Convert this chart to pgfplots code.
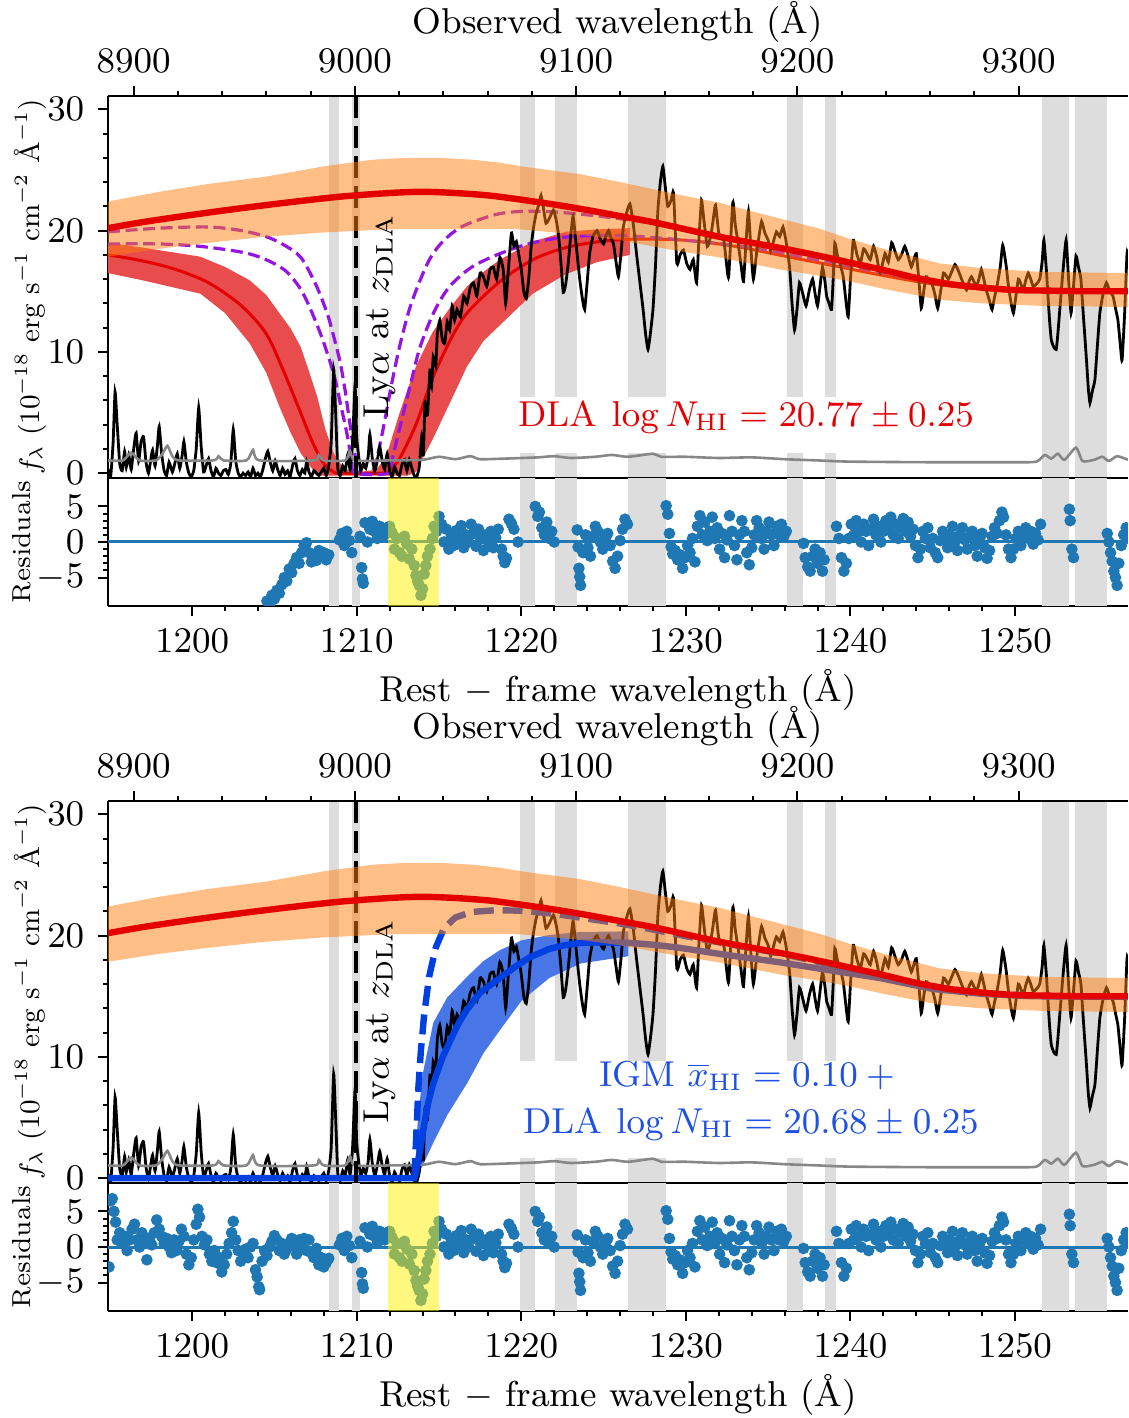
\documentclass[border=0pt]{standalone}
\usepackage{graphicx}
\usepackage{pgfplots}
\pgfplotsset{compat=1.18}
\usepackage{pgfplotstable}

\definecolor{tabblue}{RGB}{31,119,180}
\definecolor{taborange}{RGB}{255,127,14}
\definecolor{cred}{RGB}{228,0,0}
\definecolor{bandred}{RGB}{232,76,76}
\definecolor{cpurple}{RGB}{150,20,225}
\definecolor{cblue}{RGB}{0,64,224}
\definecolor{bandblue}{RGB}{72,118,230}
\definecolor{txtblue}{RGB}{30,80,230}
\definecolor{maskgray}{RGB}{221,221,221}
\definecolor{noisegray}{RGB}{135,135,135}

\newcommand{\ninept}{\fontsize{9}{10.8}\selectfont}

\pgfplotsset{
  /pgf/number format/1000 sep={},
  every tick label/.append style={font=\ninept},
  every axis label/.append style={font=\ninept},
  base/.style={scale only axis, width=255pt, anchor=south west, tick align=outside,
    axis line style={line width=0.6pt}, major tick length=2.4pt, minor tick length=1.3pt,
    every tick/.style={black, line width=0.5pt}},
  restx/.style={base, xmin=1194.89, xmax=1256.86, axis y line*=left, clip marker paths=true},
  mainax/.style={restx, height=95.5pt, ymin=-0.4, ymax=31.1, ytick={0,10,20,30}, minor y tick num=4,
    xtick=\empty},
  resax/.style={restx, height=32pt, ymin=-9, ymax=9, ytick={-5,0,5}, minor y tick num=4,
    yticklabel style={inner ysep=0.5pt},
    xtick={1200,1210,1220,1230,1240,1250}, minor x tick num=4, xtick pos=left,
    xlabel={Rest $-$ frame wavelength (\AA)},
    xlabel style={at={(axis description cs:0.5,-0.656)}, anchor=center}},
  obsax/.style={base, height=95.5pt, xmin=8888.43, xmax=9349.41, ymin=0, ymax=1,
    axis x line*=top, axis y line=none, xtick={8900,9000,9100,9200,9300}, minor x tick num=4,
    xlabel={Observed wavelength (\AA)},
    xlabel style={at={(axis description cs:0.5,1.194)}, anchor=center}},
}

\newcommand{\gband}[4]{\addplot[fill=maskgray, draw=none] coordinates {(#1,#3) (#1,#4) (#2,#4) (#2,#3)} -- cycle;}
\newcommand{\allbands}[2]{%
  \gband{1208.34}{1208.95}{#1}{#2}\gband{1209.73}{1210.2}{#1}{#2}
  \gband{1219.92}{1220.83}{#1}{#2}\gband{1222.05}{1223.38}{#1}{#2}
  \gband{1226.5}{1228.77}{#1}{#2}\gband{1236.16}{1237.1}{#1}{#2}
  \gband{1238.45}{1239.12}{#1}{#2}\gband{1251.66}{1253.26}{#1}{#2}
  \gband{1253.67}{1255.57}{#1}{#2}}

\pgfplotstableread{
x y
1194.90 0.3
1195.05 -0.3
1195.2 2.5
1195.32 6.7
1195.45 4.0
1195.6 0.8
1195.75 0.2
1195.9 1.8
1196.0 0.5
1196.15 1.5
1196.3 0.3
1196.45 2.0
1196.6 3.3
1196.75 1.0
1196.9 2.6
1197.05 3.0
1197.2 0.9
1197.35 0.0
1197.5 1.2
1197.6 1.9
1197.75 0.6
1197.9 2.4
1198.0 3.85
1198.15 1.6
1198.3 0.2
1198.45 -0.2
1198.6 0.9
1198.8 0.1
1198.95 0.8
1199.1 1.6
1199.25 0.4
1199.4 1.5
1199.5 2.6
1199.65 0.9
1199.8 0.0
1199.95 -0.3
1200.1 0.2
1200.25 2.0
1200.4 5.4
1200.55 2.2
1200.7 0.1
1200.85 0.6
1201.0 1.2
1201.15 0.2
1201.3 -0.3
1201.45 0.4
1201.6 0.0
1201.75 -0.2
1201.9 0.2
1202.05 0.3
1202.2 -0.1
1202.35 0.8
1202.5 3.6
1202.65 1.0
1202.8 0.0
1202.95 -0.3
1203.1 0.0
1203.25 -0.2
1203.4 0.1
1203.55 -0.3
1203.7 0.4
1203.85 -0.2
1204.0 0.0
1204.15 -0.3
1204.3 0.3
1204.45 1.2
1204.6 1.8
1204.75 0.9
1204.9 0.2
1205.05 1.0
1205.2 0.3
1205.35 -0.2
1205.5 0.4
1205.65 -0.1
1205.8 0.2
1205.95 -0.3
1206.1 0.6
1206.25 1.2
1206.4 0.2
1206.55 -0.2
1206.7 0.3
1206.85 0.0
1206.96 0.95
1207.1 0.1
1207.25 -0.3
1207.4 0.2
1207.55 0.0
1207.7 -0.2
1207.85 0.1
1208.0 0.4
1208.15 -0.2
1208.3 0.6
1208.45 2.5
1208.6 8.6
1208.72 5.0
1208.85 0.4
1209.0 -0.2
1209.15 0.6
1209.3 0.2
1209.45 1.5
1209.6 0.3
1209.75 2.5
1209.9 7.3
1210.0 3.0
1210.1 1.6
1210.25 0.2
1210.4 0.8
1210.55 0.4
1210.7 1.4
1210.8 3.2
1210.95 1.2
1211.1 0.2
1211.25 1.0
1211.4 2.2
1211.55 1.0
1211.7 0.3
1211.85 1.6
1212.0 0.2
1212.15 -0.3
1212.3 0.5
1212.45 0.0
1212.6 -0.2
1212.75 0.7
1212.9 1.1
1213.05 0.2
1213.2 1.1
1213.35 0.4
1213.5 -0.2
1213.65 -0.3
1213.8 0.5
1213.95 3.0
1214.05 1.5
1214.15 5.8
1214.3 4.8
1214.45 8.5
1214.55 7.2
1214.65 9.6
1214.8 8.8
1214.9 11.5
1215.05 12.6
1215.2 11.0
1215.35 10.7
1215.5 12.5
1215.65 11.8
1215.8 13.8
1215.95 12.6
1216.1 13.5
1216.3 12.9
1216.5 14.6
1216.7 14.0
1216.9 15.3
1217.1 15.7
1217.3 14.6
1217.5 16.5
1217.7 16.2
1217.9 15.4
1218.1 16.8
1218.3 17.0
1218.5 16.0
1218.7 17.8
1218.9 16.8
1219.05 14.0
1219.2 16.5
1219.4 19.8
1219.55 18.7
1219.7 19.1
1219.85 18.0
1220.0 16.8
1220.15 15.0
1220.3 14.4
1220.45 16.0
1220.6 18.7
1220.75 20.3
1220.9 21.4
1221.05 22.1
1221.2 22.9
1221.35 21.8
1221.5 20.6
1221.7 21.0
1221.95 21.7
1222.1 21.0
1222.25 19.8
1222.4 17.5
1222.55 14.9
1222.7 15.6
1222.85 17.3
1223.0 19.5
1223.15 21.2
1223.35 18.6
1223.55 16.0
1223.7 14.5
1223.85 13.5
1224.0 15.7
1224.15 18.1
1224.35 19.5
1224.6 20.0
1224.8 19.3
1225.0 18.9
1225.15 19.6
1225.3 20.0
1225.45 19.4
1225.6 18.9
1225.75 17.5
1225.9 16.2
1226.05 18.0
1226.2 20.3
1226.4 21.5
1226.6 22.2
1226.8 20.6
1227.0 18.1
1227.2 15.8
1227.4 13.5
1227.55 11.5
1227.7 10.2
1227.85 11.6
1228.0 13.5
1228.15 17.0
1228.3 21.7
1228.45 24.0
1228.6 25.3
1228.75 23.6
1228.9 22.0
1229.1 22.5
1229.25 23.1
1229.45 17.3
1229.65 18.0
1229.85 18.4
1230.05 17.3
1230.25 16.8
1230.45 17.6
1230.65 15.7
1230.8 19.5
1230.95 22.5
1231.1 20.8
1231.3 18.7
1231.5 19.5
1231.65 20.8
1231.8 22.1
1232.0 19.8
1232.3 19.2
1232.45 17.5
1232.6 16.2
1232.85 22.3
1233.0 20.5
1233.2 18.7
1233.35 17.2
1233.5 15.8
1233.65 19.0
1233.8 21.6
1233.95 18.5
1234.1 16.0
1234.3 18.2
1234.45 19.6
1234.6 20.75
1234.8 19.8
1235.0 19.2
1235.15 18.3
1235.3 19.0
1235.5 19.9
1235.7 19.5
1235.9 20.3
1236.1 19.0
1236.3 17.0
1236.45 14.0
1236.6 11.8
1236.75 13.5
1236.9 15.7
1237.1 14.8
1237.3 13.8
1237.5 15.1
1237.7 16.0
1237.85 14.8
1238.0 13.8
1238.15 15.4
1238.3 17.0
1238.45 15.8
1238.55 14.6
1238.7 14.0
1238.85 13.5
1238.95 16.0
1239.05 18.96
1239.2 18.0
1239.4 17.1
1239.56 16.2
1239.7 14.5
1239.86 12.9
1240.0 16.0
1240.17 19.2
1240.4 18.0
1240.6 17.3
1240.8 18.5
1241.0 18.1
1241.2 17.6
1241.4 18.7
1241.6 17.8
1241.8 16.5
1242.1 18.1
1242.3 17.4
1242.5 19.0
1242.7 18.3
1242.9 17.6
1243.1 18.0
1243.3 18.7
1243.5 17.9
1243.7 17.0
1243.85 17.6
1244.0 18.1
1244.15 16.0
1244.3 13.6
1244.45 15.0
1244.6 16.2
1244.8 15.9
1245.0 15.4
1245.15 14.6
1245.3 13.6
1245.5 15.2
1245.65 16.5
1245.8 16.3
1245.95 16.0
1246.15 16.6
1246.35 17.2
1246.55 16.7
1246.75 16.0
1246.9 15.5
1247.05 15.1
1247.2 15.8
1247.35 16.2
1247.5 15.8
1247.65 15.4
1247.8 16.0
1247.95 16.8
1248.1 16.0
1248.25 15.1
1248.45 14.2
1248.6 13.5
1248.75 14.5
1248.9 15.4
1249.1 17.0
1249.25 18.8
1249.45 17.2
1249.6 15.4
1249.75 14.1
1249.9 13.2
1250.05 14.6
1250.2 16.0
1250.35 15.6
1250.5 15.1
1250.65 15.9
1250.8 16.5
1250.95 16.0
1251.1 15.4
1251.3 15.6
1251.5 16.0
1251.65 17.5
1251.75 19.2
1251.9 16.8
1252.0 14.6
1252.1 12.5
1252.2 11.0
1252.35 10.4
1252.5 10.2
1252.6 11.5
1252.7 13.2
1252.9 16.5
1253.1 19.2
1253.25 16.0
1253.4 13.2
1253.55 15.4
1253.7 17.9
1253.85 17.0
1254.0 16.0
1254.15 13.0
1254.35 9.1
1254.45 7.0
1254.55 5.8
1254.7 6.8
1254.85 7.7
1255.0 10.5
1255.15 13.2
1255.35 14.8
1255.55 15.7
1255.75 15.0
1255.95 14.6
1256.1 13.6
1256.25 12.6
1256.4 10.5
1256.5 9.3
1256.65 13.0
1256.8 18.1
1256.86 18.0
}\spec

\pgfplotstableread{
x y
1194.89 1.05
1195.8 1.05
1196.3 1.7
1196.8 1.05
1197.8 1.05
1198.2 1.6
1198.5 2.25
1198.8 1.4
1199.2 1.05
1201.3 1.05
1201.6 1.4
1201.9 1.05
1203.3 1.05
1203.7 1.9
1204.1 1.05
1207.4 1.05
1207.7 1.5
1208.0 1.05
1209.3 1.05
1209.6 1.8
1209.9 1.05
1212 1.05
1214 1.1
1215 1.35
1216 1.15
1216.9 1.4
1217.5 1.15
1219 1.2
1221 1.3
1222 1.4
1223 1.25
1224.5 1.35
1225.5 1.5
1226.5 1.35
1228 1.6
1228.5 1.35
1230 1.35
1232 1.25
1234 1.3
1236 1.15
1238 1.05
1240 0.95
1245 0.9
1250 0.9
1251.3 0.95
1251.8 1.5
1252.2 1.2
1252.6 1.6
1253.0 1.1
1253.7 2.1
1254.1 1.0
1254.8 1.1
1255.3 1.35
1255.7 1.0
1256.2 1.4
1256.86 1.1
}\noise

\pgfplotstableread{
x y
1194.89 20.2
1197 20.7
1200 21.3
1203 21.85
1206 22.35
1209 22.8
1212 23.1
1214 23.2
1216 23.1
1218 22.9
1220 22.55
1222 22.15
1224 21.7
1226 21.2
1228 20.7
1230 20.1
1232 19.5
1234 19.0
1236 18.5
1238 17.95
1240 17.35
1242 16.75
1244 16.1
1246 15.6
1248 15.3
1250 15.1
1252 15.05
1254 15.0
1256.86 15.0
}\cont

\pgfplotstableread{
x y
1194.89 18.0
1197 17.5
1199 16.8
1201 15.7
1203 13.8
1204.5 11.5
1205.5 8.6
1206.5 5.3
1207.3 2.6
1208 0.8
1208.6 0.1
1209 0.0
1211.5 0.0
1212 0.25
1212.6 1.2
1213.6 4.0
1214.6 7.8
1215.7 11.0
1216.7 13.2
1218.7 15.8
1220.7 17.6
1222.7 18.6
1224.8 19.1
1227 19.3
1230 19.2
1233 18.7
1236 17.9
1239 17.1
1242 16.3
1245 15.6
1248 15.2
1251 15.0
1256.86 14.95
}\dlamed

\pgfplotstableread{
x y
1194.89 19.9
1198 20.2
1201 20.3
1203 20.0
1204.5 19.5
1205.6 18.8
1206.6 17.8
1207.5 15.6
1208.2 13.2
1208.6 11.3
1209.0 9.1
1209.3 6.8
1209.5 4.9
1209.8 2.2
1210.05 0.6
1210.3 0.0
1210.9 0.0
1211.2 1.1
1211.6 3.6
1212.1 7.2
1212.6 10.4
1213.2 13.5
1213.85 15.9
1214.5 17.8
1215.3 19.2
1216.5 20.4
1218.7 21.4
1221 21.6
1224 21.3
1228 20.6
1232 19.6
1236 18.4
1240 17.3
1244 16.1
1248 15.3
1252 15.05
1256.86 15.0
}\pone

\pgfplotstableread{
x y
1194.89 18.9
1198 18.9
1200.5 18.7
1203.1 18.2
1204.5 17.6
1205.75 16.6
1206.75 14.8
1207.8 11.5
1208.6 8.2
1209.0 5.8
1209.4 3.3
1209.7 1.0
1209.9 0.0
1211.9 0.0
1212.2 1.4
1212.7 4.2
1213.3 7.5
1213.85 10.4
1214.7 13.3
1215.65 15.4
1217 17.0
1218.7 18.1
1220.7 19.0
1223 19.5
1226 19.6
1230 19.2
1234 18.6
1238 17.6
1242 16.5
1246 15.5
1250 15.1
1256.86 15.0
}\ptwo

\pgfplotstableread{
x y
1194.89 0
1213.5 0
1213.6 0.4
1213.7 1.2
1213.85 2.3
1214.05 4.0
1214.25 5.6
1214.45 6.8
1214.65 7.8
1215.2 9.9
1215.7 11.4
1216.2 12.8
1216.7 13.9
1217.5 15.3
1218.7 16.5
1219.6 17.4
1220.5 18.2
1221.7 18.9
1222.6 19.2
1223.6 19.4
1225 19.45
1226.6 19.4
1228 19.25
1229.6 19.0
1232 18.5
1235.7 17.8
1238 17.3
1241.8 16.5
1245 15.6
1248 15.2
1251 15.0
1256.86 14.95
}\bluesolid

\pgfplotstableread{
x y
1213.5 0
1213.55 1.5
1213.65 4.5
1213.75 7.5
1213.9 10.5
1214.1 13.5
1214.4 16.6
1214.8 19.0
1215.3 20.6
1216 21.5
1217 21.95
1218.5 22.1
1220 22.05
1222 21.8
1224 21.4
1226 21.0
1228 20.5
1230 19.95
1233 19.2
1236 18.45
1240 17.25
1244 16.0
1248 15.25
1252 15.0
1256.86 14.95
}\bluedash

\pgfplotstableread{
x y
1204.4 -9.2
1204.55 -8.3
1204.7 -8.8
1204.85 -7.5
1205.0 -8.0
1205.15 -6.8
1205.3 -7.2
1205.45 -6.0
1205.6 -5.0
1205.75 -5.5
1205.9 -3.8
1206.05 -4.3
1206.2 -3.0
1206.35 -2.2
1206.5 -3.0
1206.65 -1.5
1206.8 -0.5
1206.95 -0.1
1207.1 -1.5
1207.25 -2.8
1207.4 -1.8
1207.55 -2.6
1207.7 -1.2
1207.85 -2.0
1208.0 -1.5
1208.15 -2.5
1208.3 -1.8
}\restopleft

\pgfplotstableread{
x y
1194.95 -2.8
1195.05 6.5
1195.15 6.8
1195.25 5.0
1195.35 3.5
1195.45 1.0
1195.6 2.0
1195.75 0.5
1195.9 1.5
1196.05 -0.5
1196.2 1.0
1196.35 2.5
1196.5 3.2
1196.65 1.0
1196.8 0.0
1196.95 2.0
1197.1 0.5
1197.25 -1.8
1197.4 1.2
1197.55 0.3
1197.7 2.0
1197.85 3.8
1198.0 2.5
1198.15 1.5
1198.3 0.5
1198.45 1.2
1198.6 0.0
1198.75 -0.8
1198.9 1.0
1199.05 -0.5
1199.2 0.8
1199.35 2.5
1199.5 1.5
1199.65 -1.0
1199.8 -2.5
1199.95 -1.5
1200.1 1.0
1200.25 3.2
1200.35 5.3
1200.45 4.2
1200.6 1.5
1200.75 0.3
1200.9 1.0
1201.05 -1.0
1201.2 -2.0
1201.35 -0.5
1201.5 -2.2
1201.65 -1.5
1201.8 -3.5
1201.95 -2.5
1202.1 -1.0
1202.25 0.5
1202.4 2.0
1202.5 3.6
1202.65 1.0
1202.8 -0.5
1202.95 -2.0
1203.1 -1.0
1203.25 -0.3
1203.4 -1.5
1203.55 0.0
1203.7 0.5
1203.85 -3.2
1203.95 -4.2
1204.05 -5.6
1204.1 -6.0
1204.25 -2.0
1204.4 -0.5
1204.55 -1.2
1204.7 0.0
1204.85 0.8
1205.0 1.6
1205.15 1.0
1205.3 -0.5
1205.45 0.5
1205.6 -1.0
1205.75 -0.3
1205.9 0.5
1206.05 1.2
1206.2 0.2
1206.35 -1.0
1206.5 1.0
1206.65 0.0
1206.8 1.2
1206.95 -0.5
1207.1 1.0
1207.25 -0.8
1207.4 -1.5
1207.55 -0.2
1207.7 -2.5
1207.85 -1.5
1208.0 -2.8
1208.15 -2.2
1208.3 -1.6
}\resbotleft

\pgfplotstableread{
x y
1208.95 0.3
1209.1 1.2
1209.25 -0.5
1209.4 1.5
1209.55 0.2
1209.7 -1.5
1210.2 0.8
1210.3 -3.6
1210.35 -5.2
1210.4 -5.8
1210.5 2.7
1210.65 0.0
1210.8 1.8
1210.95 2.9
1211.1 1.5
1211.25 0.5
1211.4 2.2
1211.55 1.8
1211.7 1.0
1211.85 2.0
1212.0 2.2
1212.15 1.3
1212.3 -1.0
1212.45 0.5
1212.6 -1.5
1212.75 -2.0
1212.9 0.8
1213.05 -0.3
1213.2 -2.4
1213.35 -1.0
1213.5 -3.3
1213.6 -4.7
1213.7 -5.5
1213.8 -6.1
1213.9 -7.5
1214.0 -6.6
1214.1 -4.5
1214.2 -3.3
1214.3 -2.0
1214.45 -1.0
1214.6 0.5
1214.7 2.2
1214.85 1.5
1215.0 3.6
1215.15 2.5
1215.3 0.0
1215.45 1.8
1215.6 -1.0
1215.75 0.8
1215.9 -0.5
1216.05 1.6
1216.2 0.5
1216.35 2.3
1216.5 -0.8
1216.65 1.0
1216.8 0.0
1216.95 2.5
1217.1 1.2
1217.25 -0.6
1217.4 1.8
1217.55 0.4
1217.7 -1.2
1217.85 1.0
1218.0 0.0
1218.15 1.5
1218.3 -0.8
1218.45 0.6
1218.6 1.8
1218.8 -1.0
1218.9 -2.0
1219.0 -2.9
1219.1 -2.3
1219.25 3.2
1219.4 2.6
1219.55 1.8
1219.8 0.0
1220.85 5.0
1221.0 3.6
1221.1 4.2
1221.25 2.0
1221.4 1.0
1221.55 2.8
1221.7 0.5
1221.85 1.5
1222.0 0.0
1223.4 1.7
1223.45 -0.7
1223.5 -3.7
1223.55 -4.9
1223.6 -6.1
1223.75 -1.5
1223.9 1.0
1224.05 -0.8
1224.2 -2.0
1224.35 0.8
1224.5 2.2
1224.65 1.5
1224.8 0.0
1224.95 -1.0
1225.1 0.5
1225.25 1.2
1225.4 -0.5
1225.55 -2.7
1225.7 -3.7
1225.85 -2.0
1226.0 0.2
1226.15 1.8
1226.3 3.2
1226.45 2.5
1228.8 5.1
1228.9 3.9
1229.0 1.2
1229.1 -0.7
1229.2 -1.7
1229.35 -1.2
1229.5 -2.5
1229.65 -1.8
1229.8 -3.7
1229.95 -2.2
1230.1 -0.5
1230.25 -1.5
1230.4 0.5
1230.55 -2.8
1230.7 2.2
1230.85 3.7
1231.0 1.0
1231.15 2.8
1231.3 0.2
1231.45 1.5
1231.6 3.5
1231.75 0.5
1231.9 2.0
1232.05 -1.0
1232.2 1.2
1232.35 -2.2
1232.5 0.3
1232.65 3.7
1232.8 1.5
1232.95 -0.5
1233.1 -2.5
1233.25 1.0
1233.4 3.0
1233.55 1.5
1233.7 -1.5
1233.85 -3.2
1234.0 -0.8
1234.15 1.0
1234.3 3.0
1234.45 2.0
1234.6 0.5
1234.75 -1.0
1234.9 1.5
1235.05 2.8
1235.2 1.0
1235.35 -0.5
1235.5 2.2
1235.65 1.0
1235.8 2.5
1235.95 0.8
1236.1 1.5
1237.15 -0.2
1237.25 -2.2
1237.4 -3.5
1237.55 -4.1
1237.7 -2.0
1237.85 -1.0
1238.0 -3.0
1238.15 -1.5
1238.3 -4.1
1238.4 -2.5
1239.15 2.2
1239.3 0.5
1239.45 -2.2
1239.6 -4.1
1239.75 -3.0
1239.9 0.5
1240.05 2.5
1240.2 1.0
1240.35 3.0
1240.5 1.5
1240.65 0.0
1240.8 2.5
1240.95 1.5
1241.1 -0.5
1241.25 1.8
1241.4 3.2
1241.55 1.0
1241.7 2.2
1241.85 0.0
1242.0 1.5
1242.15 3.0
1242.3 2.0
1242.45 3.5
1242.6 1.0
1242.75 2.5
1242.9 0.5
1243.05 2.0
1243.2 3.3
1243.35 1.5
1243.5 2.8
1243.65 0.8
1243.8 1.8
1243.95 -0.5
1244.1 -2.2
1244.25 -1.0
1244.4 1.5
1244.55 0.5
1244.7 2.0
1244.85 -0.8
1245.0 0.5
1245.15 -1.5
1245.3 -2.2
1245.45 0.2
1245.6 1.5
1245.75 0.5
1245.9 -0.8
1246.05 1.0
1246.2 2.2
1246.35 0.0
1246.5 -1.2
1246.65 1.0
1246.8 2.0
1246.95 0.3
1247.1 -1.0
1247.25 0.8
1247.4 1.5
1247.55 -0.5
1247.7 -2.0
1247.85 0.5
1248.0 1.2
1248.15 -0.8
1248.3 -2.3
1248.45 -1.2
1248.6 0.8
1248.75 2.0
1248.9 1.2
1249.05 3.0
1249.2 4.2
1249.3 3.5
1249.45 1.0
1249.6 -1.0
1249.75 -2.2
1249.9 -1.0
1250.05 0.5
1250.2 1.5
1250.35 -0.5
1250.5 1.0
1250.65 2.0
1250.8 0.5
1250.95 1.5
1251.1 -0.3
1251.25 1.2
1251.4 0.3
1251.55 2.5
1253.3 4.6
1253.35 3.0
1253.45 -1.0
1253.55 -2.2
1255.6 1.2
1255.7 0.0
1255.8 -1.5
1255.9 -2.7
1256.0 -4.1
1256.1 -5.0
1256.2 -6.1
1256.3 -3.0
1256.45 -0.5
1256.6 1.0
1256.75 2.0
1256.86 0.5
}\resshared

\newcommand{\orangeband}{\addplot[fill=taborange, fill opacity=0.5, draw=none] coordinates {
(1194.89,22.4) (1198,23.2) (1201,23.85) (1204.5,24.45) (1208,25.3) (1211,25.85) (1213,26.0) (1215,26.0) (1217,25.85) (1218.7,25.6) (1220,25.3) (1223.6,24.65) (1226,24.0) (1229.6,22.95) (1232,22.3) (1235.7,21.0) (1238,20.2) (1240,19.3) (1242,18.5) (1245.4,17.3) (1248,16.9) (1251.5,16.6) (1256.86,16.5)
(1256.86,13.7) (1251.5,13.8) (1248,14.0) (1245.4,14.3) (1242,15.2) (1240,15.8) (1238,16.3) (1235.7,16.8) (1232,17.8) (1229.6,18.3) (1226,19.2) (1223.6,19.65) (1220,20.1) (1218.7,20.15) (1217,20.15) (1215,20.15) (1213,20.15) (1211,20.05) (1208,19.85) (1204.5,19.5) (1201,19.0) (1198,18.5) (1194.89,17.85)} -- cycle;}

\newcommand{\commonlow}{%
  \addplot[black, line width=0.7pt, smooth, tension=0.3] table {\spec};
  \addplot[noisegray, line width=0.65pt, smooth, tension=0.4] table {\noise};}
\newcommand{\dlaline}{\addplot[black, line width=1.1pt, dash pattern=on 5.5pt off 2pt] coordinates {(1209.96,-0.4) (1209.96,31.1)};}
\newcommand{\lyatext}{\node[rotate=90, font=\ninept, inner sep=0pt] at (axis cs:1211.42,12.97) {Ly$\alpha$ at $z_{\rm DLA}$};}
\newcommand{\mainylabel}[1]{\node[rotate=90, inner sep=0pt, anchor=center] at (7.5pt,#1) {\resizebox{94pt}{!}{\fontsize{9}{10.8}\selectfont $f_\lambda$ ($10^{-18}$ erg s$^{-1}$ cm$^{-2}$ \AA$^{-1}$)}};}
\newcommand{\resylabel}[1]{\node[rotate=90, font=\fontsize{6.5}{7.5}\selectfont, inner sep=0pt, anchor=center] at (5.5pt,#1) {Residuals};}

\begin{document}
\begin{tikzpicture}
%%%%%%%%%%%%%%%% TOP PANEL
\begin{axis}[mainax, at={(27pt,235pt)}]
  \allbands{-0.4}{31.1}
  \addplot[fill=white, draw=none] coordinates {(1219.5,1.7) (1219.5,6.3) (1248.5,6.3) (1248.5,1.7)} -- cycle;
  \addplot[fill=bandred, draw=none] coordinates {
  (1194.89,19.0) (1197,18.6) (1200.5,17.85) (1202,17.0) (1203.5,15.9) (1204.5,14.7) (1205.3,13.2) (1206,11.9) (1206.6,10.4) (1207.1,8.4) (1207.6,6.3) (1208.1,3.6) (1208.6,1.65) (1209.2,0.4) (1210,0.05) (1211.2,0.3) (1211.8,1.4) (1212.6,4.95) (1213.1,6.9) (1213.6,8.8) (1214.6,11.6) (1215.7,13.7) (1216.7,15.4) (1217.7,16.6) (1218.7,17.6) (1220.7,19.1) (1222.7,19.9) (1224.6,20.1) (1226.6,20.2)
  (1226.6,18.0) (1224.6,17.4) (1222.7,16.4) (1220.7,14.8) (1218.7,12.2) (1217.7,10.9) (1216.7,8.8) (1215.7,5.9) (1214.6,2.75) (1213.6,0.1) (1213.1,-0.2) (1207.6,-0.2) (1207.1,0.7) (1206.6,1.65) (1206,3.3) (1205.3,5.5) (1204.5,8.3) (1203.5,10.7) (1202,13.2) (1200.5,14.8) (1197,15.9) (1194.89,16.5)} -- cycle;
  \addplot[cred, line width=0.75pt, smooth] table {\dlamed};
  \addplot[cpurple, line width=0.8pt, dash pattern=on 3pt off 1.4pt, smooth] table {\pone};
  \addplot[cpurple, line width=0.8pt, dash pattern=on 3pt off 1.4pt, smooth] table {\ptwo};
  \commonlow
  \dlaline
  \orangeband
  \addplot[cred, line width=1.6pt, smooth] table {\cont};
  \lyatext
  \node[font=\ninept, text=cred, inner sep=0pt] at (axis cs:1233.66,4.65) {DLA\hspace{3.5pt}$\log N_{\rm HI} = 20.77 \pm 0.25$};
\end{axis}
\begin{axis}[obsax, at={(27pt,235pt)}]
\end{axis}
\begin{axis}[resax, at={(27pt,203pt)}]
  \allbands{-9}{9}
  \addplot[tabblue, line width=0.75pt] coordinates {(1194.89,0) (1256.86,0)};
  \addplot[only marks, mark=*, mark size=1.25pt, tabblue] table {\restopleft};
  \addplot[only marks, mark=*, mark size=1.25pt, tabblue] table {\resshared};
  \addplot[fill=yellow, fill opacity=0.5, draw=none] coordinates {(1211.92,-9) (1211.92,9) (1215.02,9) (1215.02,-9)} -- cycle;
\end{axis}
%%%%%%%%%%%%%%%% BOTTOM PANEL
\begin{axis}[mainax, at={(27pt,58.75pt)}]
  \allbands{-0.4}{31.1}
  \addplot[fill=white, draw=none] coordinates {(1219.5,1.67) (1219.5,9.7) (1248.5,9.7) (1248.5,1.67)} -- cycle;
  \addplot[fill=bandblue, draw=none] coordinates {
  (1213.5,0) (1213.6,2.0) (1213.7,4.5) (1214.0,8.5) (1214.65,12.8) (1215.5,14.9) (1216.7,16.6) (1217.7,17.9) (1218.7,18.8) (1220,19.6) (1221.7,20.05) (1223.6,20.3) (1226.5,20.35)
  (1226.5,18.3) (1223.6,17.7) (1221.7,16.5) (1220,14.6) (1218.7,12.2) (1217.7,10.3) (1216.7,7.8) (1215.5,5.2) (1214.65,2.9) (1214.0,1.0) (1213.7,0.3) (1213.5,0)} -- cycle;
  \commonlow
  \addplot[cblue, line width=1.6pt, dash pattern=on 5pt off 2.2pt] table {\bluedash};
  \addplot[cblue, line width=1.6pt] table {\bluesolid};
  \dlaline
  \orangeband
  \addplot[cred, line width=1.6pt, smooth] table {\cont};
  \lyatext
  \node[font=\ninept, text=txtblue, inner sep=0pt, align=center] at (axis cs:1233.96,6.37) {IGM $\overline{x}_{\rm HI} = 0.10 +{}$\\[1pt] DLA\hspace{3.5pt}$\log N_{\rm HI} = 20.68 \pm 0.25$};
\end{axis}
\begin{axis}[obsax, at={(27pt,58.75pt)}]
\end{axis}
\begin{axis}[resax, at={(27pt,26.75pt)}]
  \allbands{-9}{9}
  \addplot[tabblue, line width=0.75pt] coordinates {(1194.89,0) (1256.86,0)};
  \addplot[only marks, mark=*, mark size=1.25pt, tabblue] table {\resbotleft};
  \addplot[only marks, mark=*, mark size=1.25pt, tabblue] table {\resshared};
  \addplot[fill=yellow, fill opacity=0.5, draw=none] coordinates {(1211.92,-9) (1211.92,9) (1215.02,9) (1215.02,-9)} -- cycle;
\end{axis}
\mainylabel{282.75pt}
\resylabel{219pt}
\mainylabel{106.5pt}
\resylabel{42.75pt}
\pgfresetboundingbox
\path[use as bounding box] (0,0) rectangle (282pt,354.5pt);
\end{tikzpicture}
\end{document}
